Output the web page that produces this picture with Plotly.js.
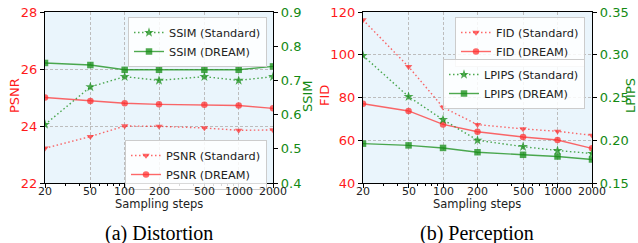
<!DOCTYPE html>
<html>
<head>
<meta charset="utf-8">
<script src="https://cdn.plot.ly/plotly-3.0.1.min.js"></script>
<style>html,body{margin:0;padding:0;background:#fff;}#chart{width:638px;height:243px;}</style>
</head>
<body>
<div id="chart"></div>
<script>
// Data
var steps = [20, 50, 100, 200, 500, 1000, 2000];
var stepLabels = ['20', '50', '100', '200', '500', '1000', '2000'];
var psnrStandard = [23.22, 23.63, 24.0, 23.99, 23.93, 23.85, 23.86];
var psnrDream    = [25.0, 24.88, 24.8, 24.76, 24.75, 24.72, 24.62];
var ssimStandard = [0.571, 0.681, 0.711, 0.700, 0.711, 0.700, 0.711];
var ssimDream    = [0.751, 0.745, 0.731, 0.731, 0.731, 0.731, 0.741];
var fidStandard  = [116.3, 94.4, 75.4, 67.3, 65.3, 64.2, 62.3];
var fidDream     = [77.1, 73.7, 67.4, 64.0, 61.5, 60.1, 56.2];
var lpipsStandard = [0.299, 0.251, 0.224, 0.200, 0.1925, 0.188, 0.1845];
var lpipsDream    = [0.196, 0.194, 0.191, 0.186, 0.183, 0.181, 0.1775];
var minorSteps = [30, 40, 60, 70, 80, 90, 300, 400, 600, 700, 800, 900];

var RED = 'rgba(255,40,40,0.7)';
var GREEN = 'rgba(20,140,20,0.75)';
var RED_TXT = '#ff1a1a';
var GREEN_TXT = '#138a13';
var FONT = 'DejaVu Sans';

function tr(y, name, color, dash, symbol, xa, ya, lg) {
  return {
    x: steps, y: y, name: name, type: 'scatter', mode: 'lines+markers',
    xaxis: xa, yaxis: ya, legend: lg,
    line: {color: color, width: 1.4, dash: dash},
    marker: {color: color, symbol: symbol, size: symbol === 'star' ? 7.5 : 6.5}
  };
}
var DOT = '1.5px,2.5px';

var data = [
  tr(ssimStandard, 'SSIM (Standard)', GREEN, DOT, 'star', 'x', 'y2', 'legend'),
  tr(ssimDream, 'SSIM (DREAM)', GREEN, 'solid', 'square', 'x', 'y2', 'legend'),
  tr(psnrStandard, 'PSNR (Standard)', RED, DOT, 'triangle-down', 'x', 'y', 'legend2'),
  tr(psnrDream, 'PSNR (DREAM)', RED, 'solid', 'circle', 'x', 'y', 'legend2'),
  tr(fidStandard, 'FID (Standard)', RED, DOT, 'triangle-down', 'x2', 'y3', 'legend3'),
  tr(fidDream, 'FID (DREAM)', RED, 'solid', 'circle', 'x2', 'y3', 'legend3'),
  tr(lpipsStandard, 'LPIPS (Standard)', GREEN, DOT, 'star', 'x2', 'y4', 'legend4'),
  tr(lpipsDream, 'LPIPS (DREAM)', GREEN, 'solid', 'square', 'x2', 'y4', 'legend4')
];

var W = 638, H = 243;
var yDom = [(H - 183) / H, (H - 12) / H];

function xAxis(dom, anchor) {
  return {
    domain: dom, anchor: anchor, type: 'log',
    range: [Math.log10(20), Math.log10(2000)],
    tickmode: 'array', tickvals: steps, ticktext: stepLabels,
    showticklabels: false,
    ticks: 'outside', ticklen: 4, tickcolor: '#000', tickwidth: 1,
    showline: true, linecolor: '#000', linewidth: 1.2, mirror: true,
    showgrid: true, gridcolor: '#bdbdbd', griddash: '3px,2px', gridwidth: 1,
    zeroline: false,
    minor: {tickmode: 'array', tickvals: minorSteps, ticks: 'outside', ticklen: 2, tickcolor: '#000', showgrid: false}
  };
}

function yLeft(range, dtick, fmt, anchor) {
  return {
    domain: yDom, anchor: anchor, range: range, dtick: dtick, tick0: range[0], tickformat: fmt,
    ticks: 'outside', ticklen: 4, tickcolor: '#000',
    tickfont: {family: FONT, size: 13, color: RED_TXT},
    showline: true, linecolor: '#000', linewidth: 1.2,
    showgrid: true, gridcolor: '#bdbdbd', griddash: '3px,2px', zeroline: false
  };
}
function yRight(range, dtick, fmt, anchor, over) {
  return {
    domain: yDom, anchor: anchor, overlaying: over, side: 'right',
    range: range, dtick: dtick, tick0: range[0], tickformat: fmt,
    ticks: 'outside', ticklen: 4, tickcolor: '#000',
    tickfont: {family: FONT, size: 13, color: GREEN_TXT},
    showline: true, linecolor: '#000', linewidth: 1.2,
    showgrid: false, zeroline: false
  };
}

function legend(xr, ytop) {
  return {
    x: xr / W, xanchor: 'right', y: (H - ytop) / H, yanchor: 'top',
    xref: 'paper', yref: 'paper',
    bgcolor: 'rgba(255,255,255,0.85)', bordercolor: '#cccccc', borderwidth: 1,
    font: {family: FONT, size: 11.3, color: '#222'},
    tracegroupgap: 0, itemwidth: 30
  };
}

function ann(text, x, y, size, color, family, angle) {
  return {text: text, x: x / W, y: (H - y) / H, xref: 'paper', yref: 'paper',
    xanchor: 'center', yanchor: 'middle', showarrow: false, textangle: angle || 0,
    font: {family: family, size: size, color: color}};
}

var SERIF = 'Liberation Serif';
var annotations = [
  ann('Sampling steps', 159, 204, 11.5, '#222', FONT),
  ann('Sampling steps', 477, 204, 11.5, '#222', FONT),
  ann('PSNR', 14, 96, 13, RED_TXT, FONT, -90),
  ann('SSIM', 307, 96, 13, GREEN_TXT, FONT, -90),
  ann('FID', 324, 96, 13, RED_TXT, FONT, -90),
  ann('LPIPS', 630, 96, 13, GREEN_TXT, FONT, -90),
  ann('(a) Distortion', 159, 233, 20, '#000', SERIF),
  ann('(b) Perception', 477, 233, 20, '#000', SERIF)
];
// x tick labels, positioned on the axes' own log scale
['x', 'x2'].forEach(function (xr) {
  steps.forEach(function (s, i) {
    annotations.push({text: stepLabels[i], x: Math.log10(s), xref: xr, y: (H - 191.5) / H, yref: 'paper',
      xanchor: 'center', yanchor: 'middle', showarrow: false,
      font: {family: FONT, size: 11, color: '#222'}});
  });
});

var layout = {
  width: W, height: H,
  margin: {l: 0, r: 0, t: 0, b: 0},
  paper_bgcolor: '#ffffff', plot_bgcolor: '#eaf5fc',
  showlegend: true,
  xaxis: xAxis([45 / W, 273 / W], 'y'),
  xaxis2: xAxis([363 / W, 592 / W], 'y3'),
  yaxis: yLeft([22, 28], 2, 'd', 'x'),
  yaxis2: yRight([0.4, 0.9], 0.1, '.1f', 'x', 'y'),
  yaxis3: yLeft([40, 120], 20, 'd', 'x2'),
  yaxis4: yRight([0.15, 0.35], 0.05, '.2f', 'x2', 'y3'),
  legend: legend(267, 17),
  legend2: legend(267, 140),
  legend3: legend(585, 17),
  legend4: legend(585, 59),
  annotations: annotations
};

Plotly.newPlot('chart', data, layout, {displayModeBar: false, staticPlot: true});
</script>
</body>
</html>
